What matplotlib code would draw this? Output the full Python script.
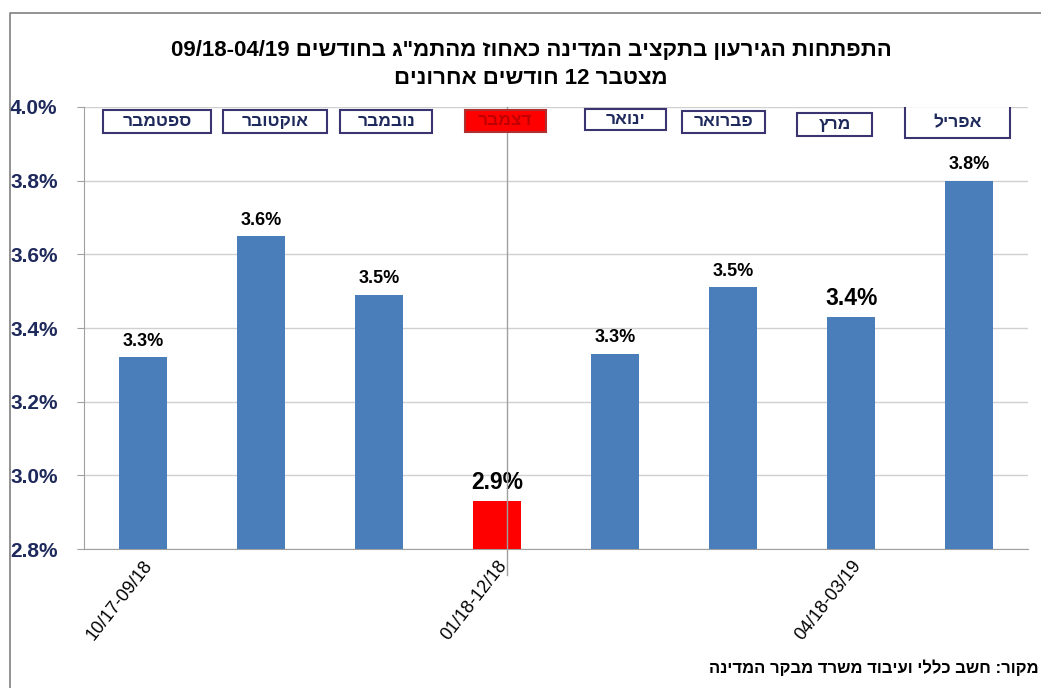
import matplotlib.pyplot as plt
import matplotlib.patches as mpatches
import matplotlib.lines as mlines
import numpy as np

plt.rcParams['font.family'] = ['Liberation Sans', 'DejaVu Sans']

# נתונים
values = [3.32, 3.65, 3.49, 2.93, 3.33, 3.51, 3.43, 3.80]
value_labels = ['3.3%', '3.6%', '3.5%', '2.9%', '3.3%', '3.5%', '3.4%', '3.8%']
months = ['ספטמבר', 'אוקטובר', 'נובמבר', 'דצמבר', 'ינואר', 'פברואר', 'מרץ', 'אפריל']
tick_pos = [0, 3, 6]
tick_labels = ['10/17-09/18', '01/18-12/18', '04/18-03/19']
title1 = 'התפתחות הגירעון בתקציב המדינה כאחוז מהתמ"ג בחודשים 09/18-04/19'
title2 = 'מצטבר 12 חודשים אחרונים'
source = 'מקור: חשב כללי ועיבוד משרד מבקר המדינה'


def rtl(s):
    # matplotlib אינו מטפל בכיווניות - הופכים ידנית
    out = []
    for w in reversed(s.split(' ')):
        if any('\u0590' <= c <= '\u05ff' for c in w):
            out.append(w[::-1])
        else:
            out.append(w)
    return ' '.join(out)


blue = '#4A7EBB'
red = '#FF0000'
navy = '#1F2A5C'
colors = [red if i == 3 else blue for i in range(len(values))]
big = [3, 6]

fig = plt.figure(figsize=(10.41, 6.88), dpi=100)
ax = fig.add_axes([0.0807, 0.202, 0.907, 0.6425])

x = np.arange(len(values))
ax.bar(x, [v - 2.8 for v in values], bottom=2.8, width=0.41, color=colors, zorder=3)

ax.set_ylim(2.8, 4.0)
ax.set_xlim(-0.5, 7.5)
ax.set_yticks(np.arange(2.8, 4.01, 0.2))
ax.set_yticklabels(['%.1f%%' % t for t in np.arange(2.8, 4.01, 0.2)],
                   fontsize=15, fontweight='bold', color=navy)
ax.yaxis.grid(True, color='#D0D0D0', linewidth=1, zorder=0)
ax.tick_params(axis='y', length=5, color='#A0A0A0', pad=14)
for s in ['top', 'right']:
    ax.spines[s].set_visible(False)
ax.spines['left'].set_color('#A0A0A0')
ax.spines['bottom'].set_color('#A0A0A0')

ax.set_xticks(tick_pos)
ax.set_xticklabels(tick_labels, rotation=52, ha='right', va='top',
                   rotation_mode='anchor', fontsize=13)
ax.tick_params(axis='x', length=0, pad=6)

# קו אנכי דרך דצמבר
ax.plot([3.08, 3.08], [2.73, 4.0], color='#A0A0A0', linewidth=1,
        zorder=4, clip_on=False)

# תוויות ערכים
for i, v in enumerate(values):
    if i in big:
        ax.text(i, v + 0.02, value_labels[i], ha='center', va='bottom',
                fontsize=16.5, fontweight='bold')
    else:
        ax.text(i, v + 0.02, value_labels[i], ha='center', va='bottom',
                fontsize=13, fontweight='bold')

# תיבות חודשים
box_cx = [0.12, 1.12, 2.06, 3.07, 4.09, 4.92, 5.86, 6.90]
box_w = [0.92, 0.88, 0.78, 0.69, 0.69, 0.70, 0.64, 0.89]
box_cy = [3.96, 3.96, 3.96, 3.962, 3.966, 3.960, 3.953, 3.958]
box_h = [0.062, 0.062, 0.062, 0.062, 0.057, 0.060, 0.062, 0.087]
for i, m in enumerate(months):
    if i == 3:
        fc, ec, tc = red, '#B03030', '#C00000'
    else:
        fc, ec, tc = 'white', '#3A3470', navy
    ax.add_patch(mpatches.Rectangle((box_cx[i] - box_w[i] / 2, box_cy[i] - box_h[i] / 2),
                                    box_w[i], box_h[i], facecolor=fc, edgecolor=ec,
                                    linewidth=1.5, zorder=5))
    ax.text(box_cx[i], box_cy[i], rtl(m), ha='center', va='center',
            fontsize=12.5, fontweight='bold', color=tc, zorder=6)

# כותרת
fig.text(0.51, 0.926, rtl(title1), ha='center', va='center', fontsize=16, fontweight='bold')
fig.text(0.51, 0.886, rtl(title2), ha='center', va='center', fontsize=16, fontweight='bold')

# מקור
fig.text(0.998, 0.03, rtl(source), ha='right', va='center', fontsize=12, fontweight='bold')

# מסגרת
fx = 10 / 1041
fy = 1 - 13 / 688
fig.add_artist(mlines.Line2D([fx, fx, 1], [0, fy, fy], color='#808080', linewidth=1.2))

fig.savefig('out.png', dpi=100)
